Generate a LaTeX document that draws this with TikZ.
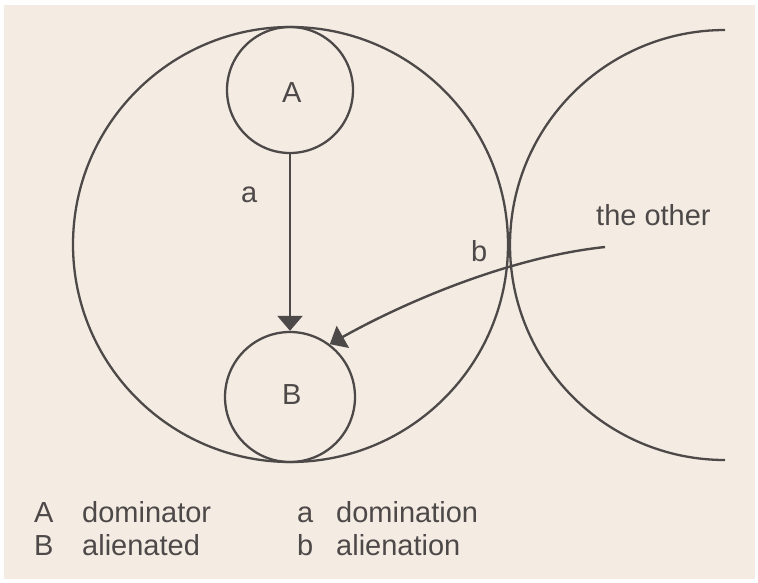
\documentclass[tikz,border=0pt]{standalone}
\usepackage{fontspec}
\setmainfont{Liberation Sans}
\usetikzlibrary{arrows.meta}
\definecolor{paper}{RGB}{244,236,227}
\definecolor{ink}{RGB}{78,73,73}
\begin{document}
\begin{tikzpicture}[x=1pt,y=1pt,
  circ/.style={circle,draw=ink,line width=2.3pt,inner sep=0pt},
  lbl/.style={inner sep=0pt,anchor=base west,text=ink,font=\fontsize{29}{33}\selectfont},
  conn/.style={draw=ink,line width=2.4pt,-{Triangle[length=15pt,width=25pt]}}]
\fill[white] (0,0) rectangle (758,-582);
\fill[paper] (4,-5) rectangle (755,-579);
\useasboundingbox (0,0) rectangle (758,-582);
% circles
\node[circ,minimum size=435pt] (big) at (290.5,-244.5) {};
\node[circ,minimum size=126pt] (A) at (290,-90) {};
\node[circ,minimum size=130pt] (B) at (290,-397) {};
\draw[ink,line width=2.3pt] (725,-30) arc[start angle=90,end angle=270,radius=215pt];
% labels
\node[lbl] (Alab) at (282,-102) {A};
\node[lbl] (Blab) at (282,-404) {B};
\node[lbl] (alab) at (241,-202) {a};
\node[lbl] (blab) at (471,-261) {b};
\node[lbl] (other) at (596,-225) {the other};
% connectors
\coordinate (src) at (605,-247);
\draw[conn] (A) -- (B);
\draw[conn] (src) .. controls (510,-257) and (405,-302) .. (B.53);
% legend
\node[lbl] (k1) at (34,-522) {A};
\node[lbl] (k2) at (82,-522) {dominator};
\node[lbl] (k3) at (297,-522) {a};
\node[lbl] (k4) at (336,-522) {domination};
\node[lbl] (k5) at (34,-555) {B};
\node[lbl] (k6) at (82,-555) {alienated};
\node[lbl] (k7) at (297,-555) {b};
\node[lbl] (k8) at (336,-555) {alienation};
\end{tikzpicture}
\end{document}
